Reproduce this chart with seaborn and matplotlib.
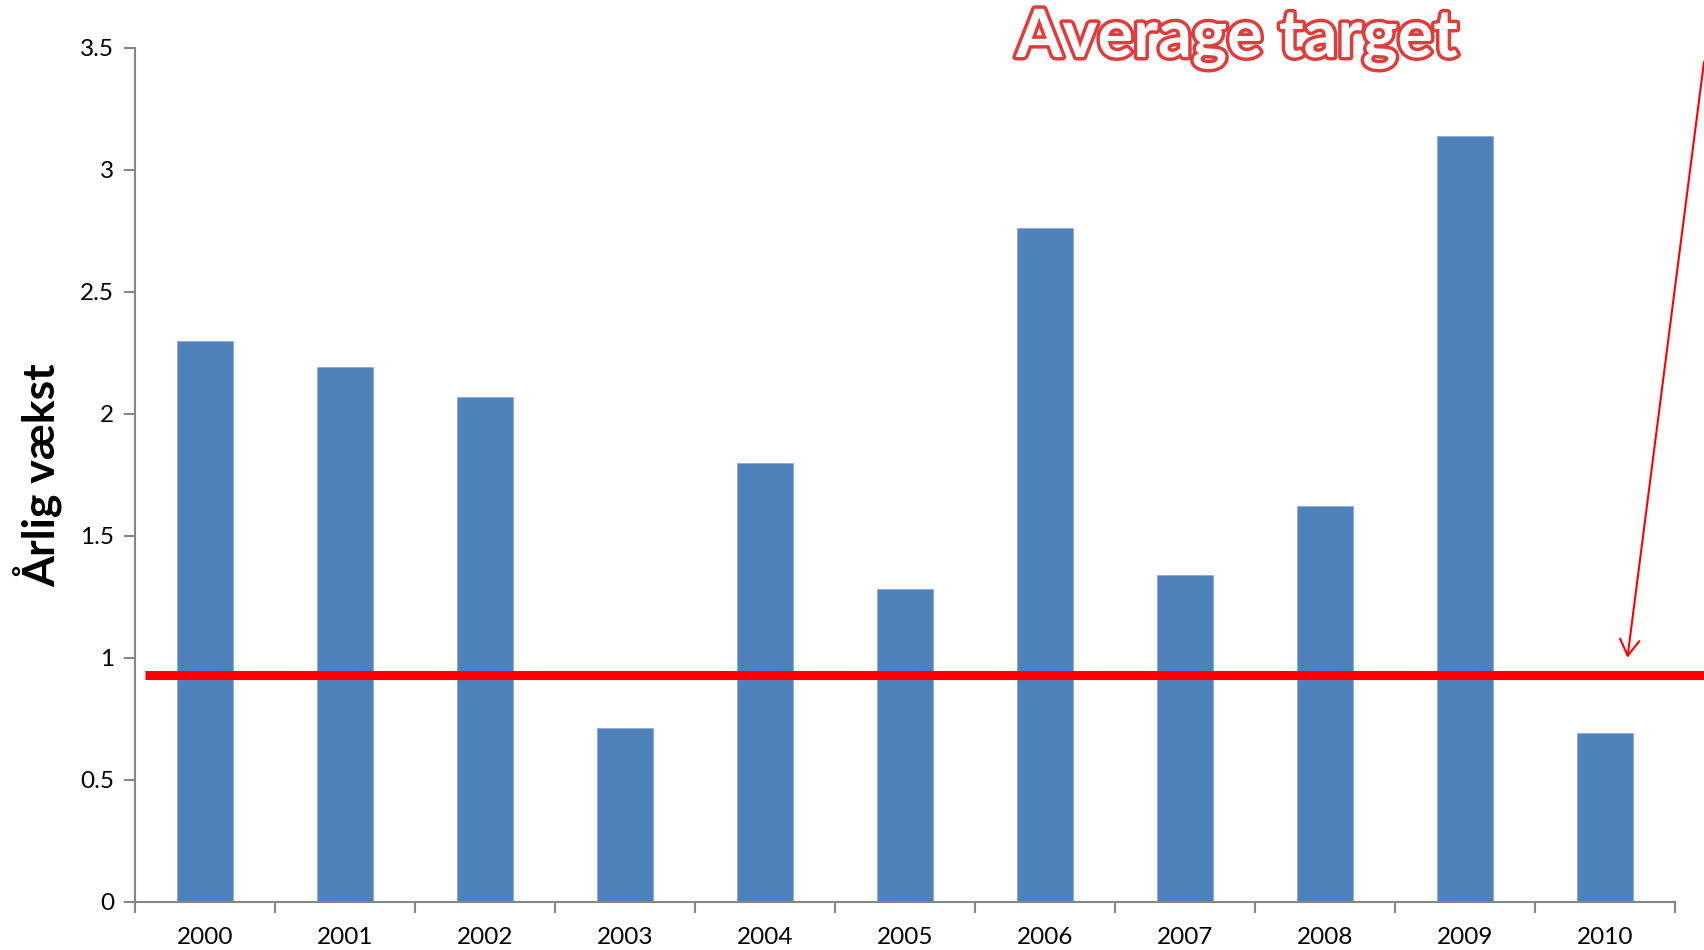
import matplotlib
matplotlib.use("Agg")
import matplotlib.pyplot as plt
import matplotlib.patheffects as pe
from matplotlib.ticker import FixedLocator
import seaborn as sns
import pandas as pd

# Annual growth per year
years = ["2000", "2001", "2002", "2003", "2004", "2005",
         "2006", "2007", "2008", "2009", "2010"]
growth = [2.30, 2.19, 2.07, 0.71, 1.80, 1.28, 2.76, 1.34, 1.62, 3.14, 0.69]
target = 0.93
y_ticks = [0, 0.5, 1, 1.5, 2, 2.5, 3, 3.5]
y_tick_labels = ["0", "0.5", "1", "1.5", "2", "2.5", "3", "3.5"]

sns.set_theme(style="white")
plt.rcParams["font.family"] = ["Lato", "DejaVu Sans"]

df = pd.DataFrame({"year": years, "growth": growth})

fig = plt.figure(figsize=(17.04, 9.5), dpi=100)
ax = fig.add_axes([0.0792, 0.0508, 0.9038, 0.899])

sns.barplot(data=df, x="year", y="growth", color="#4F81BD", saturation=1,
            width=0.395, ax=ax, edgecolor="#8EAADB", linewidth=0.6)

ax.set_xlim(-0.5, len(years) - 0.5)
ax.set_ylim(0, 3.5)
ax.set_yticks(y_ticks)
ax.set_yticklabels(y_tick_labels)

axis_grey = "#868686"
for side in ["top", "right"]:
    ax.spines[side].set_visible(False)
for side in ["left", "bottom"]:
    ax.spines[side].set_color(axis_grey)
    ax.spines[side].set_linewidth(1.5)

# category boundary ticks on x, labels centred under bars
ax.xaxis.set_minor_locator(FixedLocator([i - 0.5 for i in range(len(years) + 1)]))
ax.tick_params(axis="x", which="major", length=0, pad=18, labelsize=17.5, colors="black")
ax.tick_params(axis="x", which="minor", bottom=True, length=8, width=1.5, color=axis_grey)
ax.tick_params(axis="y", which="major", left=True, length=8, width=1.5, color=axis_grey,
               pad=7, labelsize=17.5, labelcolor="black")

ax.set_xlabel("")
ax.set_ylabel("Årlig vækst", fontsize=32, fontweight="bold", color="black")
ax.yaxis.set_label_coords(-0.047, 0.5)

# target line
ax.plot([0.0065, 1.02], [target, target], color="#FF0000", lw=6.5,
        transform=ax.get_yaxis_transform(), clip_on=False, solid_capstyle="butt", zorder=5)

# arrow pointing at the target line
ax.annotate("", xy=(10.16, 1.0), xycoords="data",
            xytext=(1.0, 0.935), textcoords="figure fraction",
            arrowprops=dict(arrowstyle="->,head_length=1.15,head_width=0.7",
                            color="#FF0000", lw=1.5, mutation_scale=10,
                            shrinkA=0, shrinkB=0),
            annotation_clip=False)

fig.text(0.726, 0.94, "Average target", fontsize=48, fontweight="bold",
         color="white", ha="center", va="baseline",
         path_effects=[pe.Stroke(linewidth=5, foreground="#E03C3C"), pe.Normal()])

fig.savefig("out.png", dpi=100, facecolor="white")
